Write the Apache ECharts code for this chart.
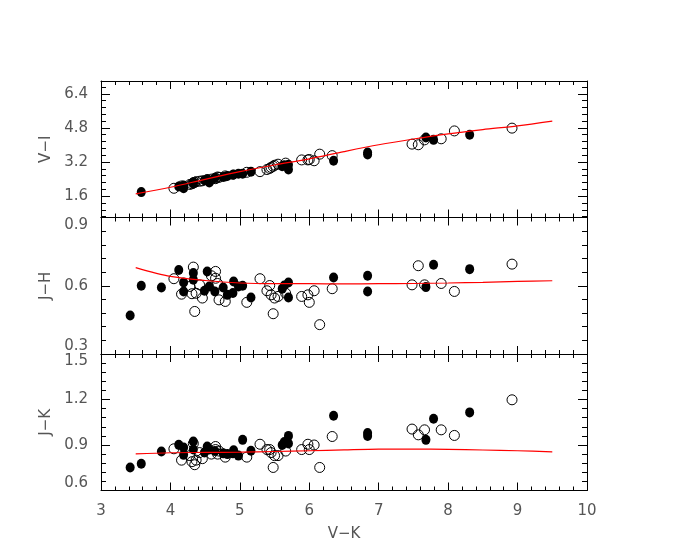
<!DOCTYPE html>
<html>
<head>
<meta charset="utf-8">
<script src="https://cdn.jsdelivr.net/npm/echarts@6/dist/echarts.min.js"></script>
<style>
  html, body { margin: 0; background: #fff; }
  #chart { width: 681px; height: 545px; }
</style>
</head>
<body>
<div id="chart"></div>
<script>
// filled symbols
const vkFilled = [3.42, 3.58, 3.87, 4.12, 4.19, 4.19, 4.33, 4.33, 4.49, 4.53, 4.56, 4.64, 4.76, 4.82, 4.90, 4.91, 4.98, 5.04, 5.16, 5.61, 5.64, 5.70, 5.70, 6.35, 6.84, 6.84, 7.68, 7.79, 8.31];
const viFilled = [null, 1.79, null, 2.05, 1.97, 2.10, 2.25, 2.20, 2.35, 2.40, 2.24, 2.45, 2.50, 2.55, 2.60, 2.62, 2.65, 2.65, 2.75, 3.00, 3.05, 3.07, 2.85, 3.26, 3.65, 3.55, 4.35, 4.24, 4.48];
const jhFilled = [0.469, 0.600, 0.592, 0.669, 0.614, 0.575, 0.656, 0.626, 0.578, 0.663, 0.597, 0.575, 0.592, 0.560, 0.568, 0.619, 0.597, 0.600, 0.548, 0.587, 0.601, 0.614, 0.548, 0.636, 0.644, 0.575, 0.594, 0.692, 0.673];
const jkFilled = [0.752, 0.776, 0.857, 0.901, 0.884, 0.835, 0.923, 0.870, 0.850, 0.890, 0.870, 0.860, 0.845, 0.840, 0.845, 0.865, 0.830, 0.934, 0.862, 0.900, 0.920, 0.960, 0.910, 1.093, 0.979, 0.960, 0.934, 1.073, 1.115];

// open symbols
const vkOpen = [4.05, 4.16, 4.28, 4.33, 4.31, 4.35, 4.37, 4.42, 4.46, 4.59, 4.65, 4.65, 4.68, 4.70, 4.79, 5.10, 5.29, 5.39, 5.43, 5.45, 5.48, 5.50, 5.55, 5.66, 5.89, 5.98, 6.00, 6.07, 6.15, 6.33, 7.48, 7.57, 7.66, 7.90, 8.09, 8.92];
const viOpen = [1.97, 2.08, 2.15, 2.22, 2.18, 2.25, 2.28, 2.30, 2.32, 2.40, 2.45, 2.42, 2.50, 2.48, 2.55, 2.72, 2.75, 2.85, 2.90, 2.95, 3.00, 3.05, 3.10, 3.15, 3.30, 3.30, 3.32, 3.26, 3.57, 3.50, 4.04, 4.01, 4.24, 4.29, 4.66, 4.79];
const jhOpen = [0.631, 0.563, 0.597, 0.682, 0.565, 0.487, 0.567, 0.604, 0.546, 0.644, 0.663, 0.633, 0.610, 0.538, 0.531, 0.527, 0.631, 0.578, 0.601, 0.560, 0.477, 0.546, 0.553, 0.567, 0.553, 0.560, 0.527, 0.578, 0.429, 0.587, 0.604, 0.688, 0.604, 0.610, 0.575, 0.695];
const jkOpen = [0.875, 0.800, 0.830, 0.910, 0.790, 0.770, 0.800, 0.850, 0.810, 0.840, 0.870, 0.890, 0.840, 0.860, 0.820, 0.820, 0.905, 0.870, 0.870, 0.850, 0.752, 0.830, 0.830, 0.860, 0.870, 0.905, 0.870, 0.900, 0.752, 0.956, 1.005, 0.967, 1.000, 1.000, 0.963, 1.198];

// model curve (red)
const vkModel = [3.5, 4, 4.5, 5, 5.5, 6, 6.5, 7, 7.5, 8, 8.5, 9, 9.5];
const viModel = [1.71, 2.02, 2.39, 2.75, 3.06, 3.35, 3.69, 4.01, 4.28, 4.52, 4.72, 4.90, 5.12];
const jhModel = [0.680, 0.641, 0.623, 0.612, 0.609, 0.609, 0.608, 0.609, 0.610, 0.612, 0.615, 0.619, 0.622];
const jkModel = [0.842, 0.849, 0.851, 0.853, 0.857, 0.862, 0.868, 0.873, 0.873, 0.871, 0.867, 0.862, 0.855];

// tick labels
const viTicks = [1.6, 3.2, 4.8, 6.4];

const txt = '#555';
const fontFamily = 'DejaVu Sans';
const grids = [
  { left: 101, right: 94, top: 81, height: 136.5 },
  { left: 101, right: 94, top: 217.5, height: 136.5 },
  { left: 101, right: 94, top: 354, height: 136.5 }
];

function pairs(xs, ys) {
  let out = [];
  for (let i = 0; i < xs.length; i++) {
    if (ys[i] != null) out.push([xs[i], ys[i]]);
  }
  return out;
}

function xAxes(gi, showLabel) {
  let base = {
    gridIndex: gi,
    type: 'value',
    min: 3,
    max: 10,
    interval: 1,
    axisLine: { onZero: false, lineStyle: { color: '#000', width: 1 } },
    axisTick: { inside: true, length: 8, lineStyle: { color: '#000' } },
    minorTick: { show: true, splitNumber: 5, length: 4, lineStyle: { color: '#000' } },
    splitLine: { show: false }
  };
  return [
    Object.assign({}, base, {
      position: 'bottom',
      name: showLabel ? 'V\u2212K' : '',
      nameLocation: 'middle',
      nameGap: 36,
      nameTextStyle: { color: txt, fontSize: 15, fontFamily: fontFamily },
      axisLabel: { show: showLabel, color: txt, fontSize: 15, fontFamily: fontFamily, margin: 13 }
    }),
    Object.assign({}, base, { position: 'top', axisLabel: { show: false } })
  ];
}

// labels at the panel edges are pulled inward, as in the original
function edgeLabel(min, max) {
  return {
    color: txt,
    fontSize: 15,
    fontFamily: fontFamily,
    margin: 13,
    formatter: function (v) {
      let s = String(+v.toFixed(2));
      if (Math.abs(v - max) < 1e-6) return '{dn|' + s + '}';
      if (Math.abs(v - min) < 1e-6) return '{up|' + s + '}';
      return s;
    },
    rich: {
      dn: { padding: [15, 0, 0, 0], color: txt, fontSize: 15, fontFamily: fontFamily },
      up: { padding: [0, 0, 15, 0], color: txt, fontSize: 15, fontFamily: fontFamily }
    }
  };
}

function yAxis(gi, pos, min, max, interval, name) {
  return {
    gridIndex: gi,
    type: 'value',
    position: pos,
    min: min,
    max: max,
    interval: interval,
    name: name || '',
    nameLocation: 'middle',
    nameGap: 41,
    nameRotate: 90,
    nameTextStyle: { color: txt, fontSize: 15, fontFamily: fontFamily },
    axisLine: { show: true, lineStyle: { color: '#000', width: 1 } },
    axisTick: { inside: true, length: 9, lineStyle: { color: '#000' } },
    minorTick: { show: true, splitNumber: 5, length: 5, lineStyle: { color: '#000' } },
    splitLine: { show: false },
    axisLabel: pos === 'left' ? edgeLabel(min, max) : { show: false }
  };
}

// top panel: ticks at 1.6 steps on a 0.6 - 7.0 range
let viMinor = [];
for (let k = -3; k <= 16; k++) {
  if (k % 5 !== 0) viMinor.push(+(1.6 + 0.32 * k).toFixed(2));
}
function viAxis(pos, major) {
  return {
    gridIndex: 0,
    type: 'value',
    position: pos,
    min: 0.6,
    max: 7.0,
    name: pos === 'left' && major ? 'V\u2212I' : '',
    nameLocation: 'middle',
    nameGap: 41,
    nameRotate: 90,
    nameTextStyle: { color: txt, fontSize: 15, fontFamily: fontFamily },
    axisLine: { show: major, lineStyle: { color: '#000', width: 1 } },
    axisTick: {
      inside: true,
      length: major ? 9 : 5,
      customValues: major ? viTicks : viMinor,
      lineStyle: { color: '#000' }
    },
    splitLine: { show: false },
    axisLabel: pos === 'left' && major
      ? { color: txt, fontSize: 15, fontFamily: fontFamily, margin: 13, customValues: viTicks }
      : { show: false }
  };
}

function scatter(xi, yi, data, filled) {
  return {
    type: 'scatter',
    xAxisIndex: xi,
    yAxisIndex: yi,
    data: data,
    symbol: 'circle',
    symbolSize: filled ? [9, 10] : [10, 10],
    itemStyle: filled
      ? { color: '#000', opacity: 1 }
      : { color: 'transparent', borderColor: '#000', borderWidth: 1, opacity: 1 },
    emphasis: { disabled: true },
    silent: true
  };
}

function model(xi, yi, ys) {
  return {
    type: 'line',
    xAxisIndex: xi,
    yAxisIndex: yi,
    data: pairs(vkModel, ys),
    smooth: 0.3,
    showSymbol: false,
    lineStyle: { color: '#ff0000', width: 1.2 },
    silent: true,
    z: 5
  };
}

let myChart = echarts.init(document.getElementById('chart'), null, { renderer: 'canvas' });
let option = {
  animation: false,
  backgroundColor: '#fff',
  grid: grids,
  xAxis: [].concat(xAxes(0, false), xAxes(1, false), xAxes(2, true)),
  yAxis: [
    viAxis('left', true),
    viAxis('left', false),
    viAxis('right', true),
    viAxis('right', false),
    yAxis(1, 'left', 0.3, 0.9, 0.3, 'J\u2212H'),
    yAxis(1, 'right', 0.3, 0.9, 0.3),
    yAxis(2, 'left', 0.6, 1.5, 0.3, 'J\u2212K'),
    yAxis(2, 'right', 0.6, 1.5, 0.3)
  ],
  series: [
    scatter(0, 0, pairs(vkOpen, viOpen), false),
    scatter(0, 0, pairs(vkFilled, viFilled), true),
    model(0, 0, viModel),
    scatter(2, 4, pairs(vkOpen, jhOpen), false),
    scatter(2, 4, pairs(vkFilled, jhFilled), true),
    model(2, 4, jhModel),
    scatter(4, 6, pairs(vkOpen, jkOpen), false),
    scatter(4, 6, pairs(vkFilled, jkFilled), true),
    model(4, 6, jkModel)
  ]
};
myChart.setOption(option);
</script>
</body>
</html>
